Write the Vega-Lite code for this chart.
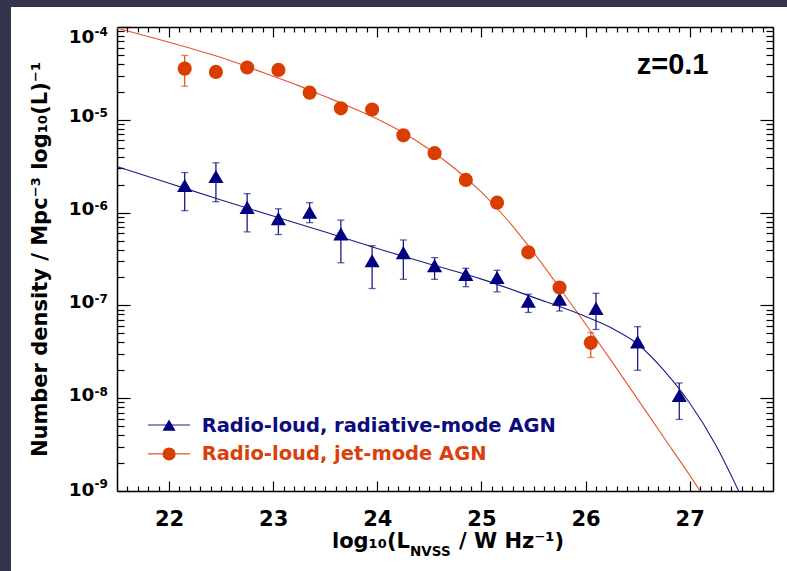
{
  "$schema": "https://vega.github.io/schema/vega-lite/v6.json",
  "width": 776,
  "height": 564,
  "autosize": {"type": "none"},
  "padding": {"left": 11, "top": 7, "right": 0, "bottom": 0},
  "background": "#34344a",
  "config": {
    "view": {"fill": "#ffffff", "stroke": null},
    "font": "DejaVu Sans",
    "axis": {
      "grid": false,
      "domainColor": "#000000",
      "domainWidth": 1.5,
      "tickColor": "#000000",
      "tickWidth": 1.2,
      "labelColor": "#000000",
      "labelFont": "DejaVu Sans",
      "labelFontWeight": "bold",
      "titleColor": "#000000",
      "titleFont": "DejaVu Sans",
      "titleFontWeight": "bold"
    }
  },
  "datasets": {
    "fits": [
      {"series": "jet", "L": 21.5, "n": 9.68e-5},
      {"series": "jet", "L": 22.0, "n": 6.84e-5},
      {"series": "jet", "L": 22.5, "n": 4.68e-5},
      {"series": "jet", "L": 23.0, "n": 2.95e-5},
      {"series": "jet", "L": 23.25, "n": 2.32e-5},
      {"series": "jet", "L": 23.5, "n": 1.78e-5},
      {"series": "jet", "L": 23.75, "n": 1.36e-5},
      {"series": "jet", "L": 24.0, "n": 1.02e-5},
      {"series": "jet", "L": 24.25, "n": 7.24e-6},
      {"series": "jet", "L": 24.5, "n": 4.79e-6},
      {"series": "jet", "L": 24.75, "n": 2.95e-6},
      {"series": "jet", "L": 25.0, "n": 1.66e-6},
      {"series": "jet", "L": 25.25, "n": 8.32e-7},
      {"series": "jet", "L": 25.5, "n": 3.72e-7},
      {"series": "jet", "L": 25.75, "n": 1.55e-7},
      {"series": "jet", "L": 26.0, "n": 6.31e-8},
      {"series": "jet", "L": 26.25, "n": 2.51e-8},
      {"series": "jet", "L": 26.5, "n": 9.77e-9},
      {"series": "jet", "L": 26.75, "n": 3.8e-9},
      {"series": "jet", "L": 27.0, "n": 1.48e-9},
      {"series": "jet", "L": 27.1, "n": 1.0e-9},
      {"series": "radiative", "L": 21.5, "n": 3.13e-6},
      {"series": "radiative", "L": 22.0, "n": 2.07e-6},
      {"series": "radiative", "L": 22.5, "n": 1.37e-6},
      {"series": "radiative", "L": 23.0, "n": 9.18e-7},
      {"series": "radiative", "L": 23.5, "n": 6.18e-7},
      {"series": "radiative", "L": 24.0, "n": 4.1e-7},
      {"series": "radiative", "L": 24.5, "n": 2.79e-7},
      {"series": "radiative", "L": 25.0, "n": 1.92e-7},
      {"series": "radiative", "L": 25.5, "n": 1.22e-7},
      {"series": "radiative", "L": 26.0, "n": 7.59e-8},
      {"series": "radiative", "L": 26.25, "n": 5.7e-8},
      {"series": "radiative", "L": 26.5, "n": 3.84e-8},
      {"series": "radiative", "L": 26.75, "n": 2.01e-8},
      {"series": "radiative", "L": 27.0, "n": 8.87e-9},
      {"series": "radiative", "L": 27.25, "n": 3.13e-9},
      {"series": "radiative", "L": 27.47, "n": 1.0e-9}
    ],
    "lf": [
      {"series": "radiative", "L": 22.15, "n": 1.96e-6, "lo": 1.05e-6, "hi": 2.7e-6},
      {"series": "radiative", "L": 22.45, "n": 2.45e-6, "lo": 1.31e-6, "hi": 3.44e-6},
      {"series": "radiative", "L": 22.75, "n": 1.14e-6, "lo": 6.2e-7, "hi": 1.6e-6},
      {"series": "radiative", "L": 23.05, "n": 8.6e-7, "lo": 5.8e-7, "hi": 1.1e-6},
      {"series": "radiative", "L": 23.35, "n": 1.01e-6, "lo": 7.8e-7, "hi": 1.28e-6},
      {"series": "radiative", "L": 23.65, "n": 5.9e-7, "lo": 2.88e-7, "hi": 8.3e-7},
      {"series": "radiative", "L": 23.95, "n": 3.03e-7, "lo": 1.52e-7, "hi": 4.4e-7},
      {"series": "radiative", "L": 24.25, "n": 3.7e-7, "lo": 1.91e-7, "hi": 5.07e-7},
      {"series": "radiative", "L": 24.55, "n": 2.68e-7, "lo": 1.91e-7, "hi": 3.27e-7},
      {"series": "radiative", "L": 24.85, "n": 2.16e-7, "lo": 1.59e-7, "hi": 2.51e-7},
      {"series": "radiative", "L": 25.15, "n": 2.0e-7, "lo": 1.4e-7, "hi": 2.39e-7},
      {"series": "radiative", "L": 25.45, "n": 1.11e-7, "lo": 8.4e-8, "hi": 1.32e-7},
      {"series": "radiative", "L": 25.75, "n": 1.17e-7, "lo": 8.7e-8, "hi": 1.45e-7},
      {"series": "radiative", "L": 26.1, "n": 9.3e-8, "lo": 5.5e-8, "hi": 1.35e-7},
      {"series": "radiative", "L": 26.5, "n": 4.05e-8, "lo": 2.0e-8, "hi": 5.9e-8},
      {"series": "radiative", "L": 26.9, "n": 1.07e-8, "lo": 5.9e-9, "hi": 1.46e-8},
      {"series": "jet", "L": 22.15, "n": 3.56e-5, "lo": 2.3e-5, "hi": 4.95e-5},
      {"series": "jet", "L": 22.45, "n": 3.28e-5},
      {"series": "jet", "L": 22.75, "n": 3.66e-5},
      {"series": "jet", "L": 23.05, "n": 3.45e-5},
      {"series": "jet", "L": 23.35, "n": 1.96e-5},
      {"series": "jet", "L": 23.65, "n": 1.33e-5},
      {"series": "jet", "L": 23.95, "n": 1.29e-5},
      {"series": "jet", "L": 24.25, "n": 6.8e-6},
      {"series": "jet", "L": 24.55, "n": 4.37e-6},
      {"series": "jet", "L": 24.85, "n": 2.25e-6},
      {"series": "jet", "L": 25.15, "n": 1.28e-6},
      {"series": "jet", "L": 25.45, "n": 3.73e-7},
      {"series": "jet", "L": 25.75, "n": 1.56e-7},
      {"series": "jet", "L": 26.05, "n": 3.95e-8, "lo": 2.75e-8, "hi": 5.1e-8}
    ]
  },
  "resolve": {"axis": {"x": "independent", "y": "independent"}},
  "layer": [
    {
      "data": {"name": "fits"},
      "mark": {"type": "line", "strokeWidth": 1.1, "interpolate": "monotone"},
      "encoding": {
        "x": {
          "field": "L", "type": "quantitative",
          "scale": {"domain": [21.5, 27.8], "range": [106, 762], "nice": false, "zero": false},
          "axis": {
            "orient": "bottom", "offset": -80, "values": [22, 23, 24, 25, 26, 27],
            "format": "d", "tickSize": -10, "labelFontSize": 21, "labelBaseline": "alphabetic",
            "labelPadding": 44, "labelFlush": false, "title": null, "domain": true
          }
        },
        "y": {
          "field": "n", "type": "quantitative",
          "scale": {"type": "log", "domain": [1e-9, 1e-4], "range": [484, 20], "nice": false},
          "axis": {
            "orient": "left", "offset": -106,
            "values": [1e-9, 1e-8, 1e-7, 1e-6, 1e-5, 1e-4],
            "tickSize": -13, "labelFontSize": 18.5, "labelAlign": "right", "labelBaseline": "alphabetic",
            "labelPadding": 36, "labelFlush": false,
            "labelExpr": "'10'",
            "labelOffset": {"expr": "datum.value > 5e-5 ? 15 : datum.value < 2e-9 ? 4 : 2"},
            "title": "Number density / Mpc⁻³ log₁₀(L)⁻¹",
            "titleFontSize": 21, "titleAngle": -90, "titleX": -77, "titleBaseline": "middle",
            "domain": true
          }
        },
        "color": {
          "field": "series", "type": "nominal",
          "scale": {"domain": ["jet", "radiative"], "range": ["#e4552a", "#1c1c8a"]},
          "legend": null
        }
      }
    },
    {
      "data": {"name": "lf"},
      "mark": {"type": "rule", "strokeWidth": 1.3},
      "encoding": {
        "x": {
          "field": "L", "type": "quantitative",
          "scale": {"domain": [21.5, 27.8], "range": [106, 762], "nice": false, "zero": false},
          "axis": {
            "orient": "bottom", "offset": -80,
            "values": [21.6, 21.7, 21.8, 21.9, 22.1, 22.2, 22.3, 22.4, 22.5, 22.6, 22.7, 22.8, 22.9, 23.1, 23.2, 23.3, 23.4, 23.5, 23.6, 23.7, 23.8, 23.9, 24.1, 24.2, 24.3, 24.4, 24.5, 24.6, 24.7, 24.8, 24.9, 25.1, 25.2, 25.3, 25.4, 25.5, 25.6, 25.7, 25.8, 25.9, 26.1, 26.2, 26.3, 26.4, 26.5, 26.6, 26.7, 26.8, 26.9, 27.1, 27.2, 27.3, 27.4, 27.5, 27.6, 27.7],
            "tickSize": -5, "labels": false, "domain": false, "title": null
          }
        },
        "y": {
          "field": "lo", "type": "quantitative",
          "scale": {"type": "log", "domain": [1e-9, 1e-4], "range": [484, 20], "nice": false},
          "axis": {
            "orient": "left", "offset": -106,
            "values": [2e-9, 3e-9, 4e-9, 5e-9, 6e-9, 7e-9, 8e-9, 9e-9, 2e-8, 3e-8, 4e-8, 5e-8, 6e-8, 7e-8, 8e-8, 9e-8, 2e-7, 3e-7, 4e-7, 5e-7, 6e-7, 7e-7, 8e-7, 9e-7, 2e-6, 3e-6, 4e-6, 5e-6, 6e-6, 7e-6, 8e-6, 9e-6, 2e-5, 3e-5, 4e-5, 5e-5, 6e-5, 7e-5, 8e-5, 9e-5],
            "tickSize": -7, "labels": false, "domain": false, "title": null
          }
        },
        "y2": {"field": "hi"},
        "color": {
          "field": "series", "type": "nominal",
          "scale": {"domain": ["jet", "radiative"], "range": ["#e4552a", "#1c1c8a"]},
          "legend": null
        }
      }
    },
    {
      "data": {"name": "lf"},
      "transform": [{"fold": ["lo", "hi"], "as": ["end", "val"]}],
      "mark": {"type": "tick", "orient": "horizontal", "size": 7, "thickness": 1.3},
      "encoding": {
        "x": {
          "field": "L", "type": "quantitative",
          "scale": {"domain": [21.5, 27.8], "range": [106, 762], "nice": false, "zero": false},
          "axis": {
            "orient": "top", "offset": -20, "values": [22, 23, 24, 25, 26, 27],
            "tickSize": -10, "labels": false, "domain": true, "title": null
          }
        },
        "y": {
          "field": "val", "type": "quantitative",
          "scale": {"type": "log", "domain": [1e-9, 1e-4], "range": [484, 20], "nice": false},
          "axis": {
            "orient": "right", "offset": -14,
            "values": [1e-9, 1e-8, 1e-7, 1e-6, 1e-5, 1e-4],
            "tickSize": -13, "labels": false, "domain": true, "title": null
          }
        },
        "color": {
          "field": "series", "type": "nominal",
          "scale": {"domain": ["jet", "radiative"], "range": ["#e4552a", "#1c1c8a"]},
          "legend": null
        }
      }
    },
    {
      "data": {"name": "lf"},
      "transform": [{"filter": "datum.series == 'radiative'"}],
      "mark": {"type": "point", "shape": "triangle-up", "filled": true, "size": 230, "color": "#000080", "opacity": 1},
      "encoding": {
        "x": {
          "field": "L", "type": "quantitative",
          "scale": {"domain": [21.5, 27.8], "range": [106, 762], "nice": false, "zero": false},
          "axis": {
            "orient": "top", "offset": -20,
            "values": [21.6, 21.7, 21.8, 21.9, 22.1, 22.2, 22.3, 22.4, 22.5, 22.6, 22.7, 22.8, 22.9, 23.1, 23.2, 23.3, 23.4, 23.5, 23.6, 23.7, 23.8, 23.9, 24.1, 24.2, 24.3, 24.4, 24.5, 24.6, 24.7, 24.8, 24.9, 25.1, 25.2, 25.3, 25.4, 25.5, 25.6, 25.7, 25.8, 25.9, 26.1, 26.2, 26.3, 26.4, 26.5, 26.6, 26.7, 26.8, 26.9, 27.1, 27.2, 27.3, 27.4, 27.5, 27.6, 27.7],
            "tickSize": -5, "labels": false, "domain": false, "title": null
          }
        },
        "y": {
          "field": "n", "type": "quantitative",
          "scale": {"type": "log", "domain": [1e-9, 1e-4], "range": [484, 20], "nice": false},
          "axis": {
            "orient": "right", "offset": -14,
            "values": [2e-9, 3e-9, 4e-9, 5e-9, 6e-9, 7e-9, 8e-9, 9e-9, 2e-8, 3e-8, 4e-8, 5e-8, 6e-8, 7e-8, 8e-8, 9e-8, 2e-7, 3e-7, 4e-7, 5e-7, 6e-7, 7e-7, 8e-7, 9e-7, 2e-6, 3e-6, 4e-6, 5e-6, 6e-6, 7e-6, 8e-6, 9e-6, 2e-5, 3e-5, 4e-5, 5e-5, 6e-5, 7e-5, 8e-5, 9e-5],
            "tickSize": -7, "labels": false, "domain": false, "title": null
          }
        }
      }
    },
    {
      "data": {"name": "lf"},
      "transform": [{"filter": "datum.series == 'jet'"}],
      "mark": {"type": "point", "shape": "circle", "filled": true, "size": 200, "color": "#da3d00", "opacity": 1},
      "encoding": {
        "x": {"field": "L", "type": "quantitative", "scale": {"domain": [21.5, 27.8], "range": [106, 762], "nice": false, "zero": false}, "axis": null},
        "y": {
          "field": "n", "type": "quantitative",
          "scale": {"type": "log", "domain": [1e-9, 1e-4], "range": [484, 20], "nice": false},
          "axis": {
            "orient": "left", "offset": -106,
            "values": [1e-9, 1e-8, 1e-7, 1e-6, 1e-5, 1e-4],
            "ticks": false, "domain": false, "title": null,
            "labelFontSize": 12, "labelAlign": "left", "labelBaseline": "alphabetic",
            "labelPadding": 23, "labelFlush": false,
            "labelExpr": "'-' + (-round(log(datum.value) / LN10))",
            "labelOffset": {"expr": "datum.value > 5e-5 ? 8 : datum.value < 2e-9 ? -4 : -3"}
          }
        }
      }
    },
    {
      "data": {"values": [{}]},
      "mark": {"type": "rule", "color": "#1c1c8a", "strokeWidth": 1.1},
      "encoding": {
        "x": {"datum": 21.798, "type": "quantitative", "scale": {"domain": [21.5, 27.8], "range": [106, 762], "nice": false, "zero": false}, "axis": null},
        "x2": {"datum": 22.201},
        "y": {"datum": 5.14e-9, "type": "quantitative", "scale": {"type": "log", "domain": [1e-9, 1e-4], "range": [484, 20], "nice": false}, "axis": null}
      }
    },
    {
      "data": {"values": [{}]},
      "mark": {"type": "point", "shape": "triangle-up", "filled": true, "size": 170, "color": "#000080", "opacity": 1},
      "encoding": {
        "x": {"datum": 22.0, "type": "quantitative", "scale": {"domain": [21.5, 27.8], "range": [106, 762], "nice": false, "zero": false}, "axis": null},
        "y": {"datum": 5.14e-9, "type": "quantitative", "scale": {"type": "log", "domain": [1e-9, 1e-4], "range": [484, 20], "nice": false}, "axis": null}
      }
    },
    {
      "data": {"values": [{}]},
      "mark": {"type": "text", "align": "left", "baseline": "alphabetic", "font": "DejaVu Sans", "fontWeight": "bold", "fontSize": 19.5, "color": "#0c0c7c"},
      "encoding": {
        "x": {"datum": 22.313, "type": "quantitative", "scale": {"domain": [21.5, 27.8], "range": [106, 762], "nice": false, "zero": false}, "axis": null},
        "y": {"datum": 4.35e-9, "type": "quantitative", "scale": {"type": "log", "domain": [1e-9, 1e-4], "range": [484, 20], "nice": false}, "axis": null},
        "text": {"value": "Radio-loud, radiative-mode AGN"}
      }
    },
    {
      "data": {"values": [{}]},
      "mark": {"type": "rule", "color": "#e4552a", "strokeWidth": 1.1},
      "encoding": {
        "x": {"datum": 21.798, "type": "quantitative", "scale": {"domain": [21.5, 27.8], "range": [106, 762], "nice": false, "zero": false}, "axis": null},
        "x2": {"datum": 22.201},
        "y": {"datum": 2.51e-9, "type": "quantitative", "scale": {"type": "log", "domain": [1e-9, 1e-4], "range": [484, 20], "nice": false}, "axis": null}
      }
    },
    {
      "data": {"values": [{}]},
      "mark": {"type": "point", "shape": "circle", "filled": true, "size": 170, "color": "#da3d00", "opacity": 1},
      "encoding": {
        "x": {"datum": 22.0, "type": "quantitative", "scale": {"domain": [21.5, 27.8], "range": [106, 762], "nice": false, "zero": false}, "axis": null},
        "y": {"datum": 2.51e-9, "type": "quantitative", "scale": {"type": "log", "domain": [1e-9, 1e-4], "range": [484, 20], "nice": false}, "axis": null}
      }
    },
    {
      "data": {"values": [{}]},
      "mark": {"type": "text", "align": "left", "baseline": "alphabetic", "font": "DejaVu Sans", "fontWeight": "bold", "fontSize": 19.5, "color": "#d9400a"},
      "encoding": {
        "x": {"datum": 22.313, "type": "quantitative", "scale": {"domain": [21.5, 27.8], "range": [106, 762], "nice": false, "zero": false}, "axis": null},
        "y": {"datum": 2.16e-9, "type": "quantitative", "scale": {"type": "log", "domain": [1e-9, 1e-4], "range": [484, 20], "nice": false}, "axis": null},
        "text": {"value": "Radio-loud, jet-mode AGN"}
      }
    },
    {
      "data": {"values": [{}]},
      "mark": {"type": "text", "align": "left", "baseline": "alphabetic", "font": "Liberation Sans", "fontWeight": "bold", "fontSize": 29, "color": "#000000"},
      "encoding": {
        "x": {"datum": 26.491, "type": "quantitative", "scale": {"domain": [21.5, 27.8], "range": [106, 762], "nice": false, "zero": false}, "axis": null},
        "y": {"datum": 3.09e-5, "type": "quantitative", "scale": {"type": "log", "domain": [1e-9, 1e-4], "range": [484, 20], "nice": false}, "axis": null},
        "text": {"value": "z=0.1"}
      }
    },
    {
      "data": {"values": [{}]},
      "mark": {"type": "text", "align": "right", "baseline": "alphabetic", "font": "DejaVu Sans", "fontWeight": "bold", "fontSize": 21, "color": "#000000"},
      "encoding": {
        "x": {"datum": 24.314, "type": "quantitative", "scale": {"domain": [21.5, 27.8], "range": [106, 762], "nice": false, "zero": false}, "axis": null},
        "y": {"datum": 2.43e-10, "type": "quantitative", "scale": {"type": "log", "domain": [1e-9, 1e-4], "range": [484, 20], "nice": false}, "axis": null},
        "text": {"value": "log₁₀(L"}
      }
    },
    {
      "data": {"values": [{}]},
      "mark": {"type": "text", "align": "left", "baseline": "alphabetic", "font": "DejaVu Sans", "fontWeight": "bold", "fontSize": 13.5, "color": "#000000"},
      "encoding": {
        "x": {"datum": 24.314, "type": "quantitative", "scale": {"domain": [21.5, 27.8], "range": [106, 762], "nice": false, "zero": false}, "axis": null},
        "y": {"datum": 2.0e-10, "type": "quantitative", "scale": {"type": "log", "domain": [1e-9, 1e-4], "range": [484, 20], "nice": false}, "axis": null},
        "text": {"value": "NVSS"}
      }
    },
    {
      "data": {"values": [{}]},
      "mark": {"type": "text", "align": "left", "baseline": "alphabetic", "font": "DejaVu Sans", "fontWeight": "bold", "fontSize": 21, "color": "#000000"},
      "encoding": {
        "x": {"datum": 24.784, "type": "quantitative", "scale": {"domain": [21.5, 27.8], "range": [106, 762], "nice": false, "zero": false}, "axis": null},
        "y": {"datum": 2.43e-10, "type": "quantitative", "scale": {"type": "log", "domain": [1e-9, 1e-4], "range": [484, 20], "nice": false}, "axis": null},
        "text": {"value": "/ W Hz⁻¹)"}
      }
    }
  ]
}
